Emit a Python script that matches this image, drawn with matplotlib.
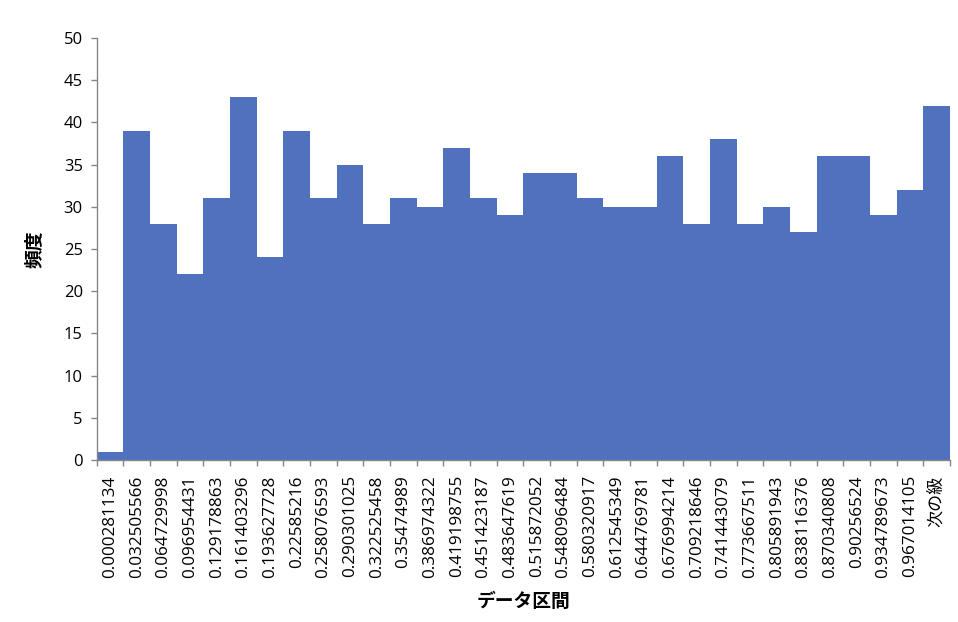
import matplotlib
matplotlib.use("Agg")
import matplotlib.pyplot as plt
import numpy as np

plt.rcParams['font.family'] = ['Open Sans', 'Noto Sans CJK JP', 'DejaVu Sans']

categories = ["0.000281134", "0.032505566", "0.064729998", "0.096954431", "0.129178863",
              "0.161403296", "0.193627728", "0.22585216", "0.258076593", "0.290301025",
              "0.322525458", "0.35474989", "0.386974322", "0.419198755", "0.451423187",
              "0.483647619", "0.515872052", "0.548096484", "0.580320917", "0.612545349",
              "0.644769781", "0.676994214", "0.709218646", "0.741443079", "0.773667511",
              "0.805891943", "0.838116376", "0.870340808", "0.90256524", "0.934789673",
              "0.967014105", "次の級"]
frequency = [1, 39, 28, 22, 31, 43, 24, 39, 31, 35, 28, 31, 30, 37, 31, 29,
             34, 34, 31, 30, 30, 36, 28, 38, 28, 30, 27, 36, 36, 29, 32, 42]
y_ticks = [0, 5, 10, 15, 20, 25, 30, 35, 40, 45, 50]

fig = plt.figure(figsize=(9.58, 6.22), dpi=100)
ax = fig.add_axes([0.101, 0.2605, 0.8907, 0.6784])

x = np.arange(len(categories))
ax.bar(x, frequency, width=1.0, color='#4F71BE', edgecolor='none')

ax.set_xlim(-0.5, len(categories) - 0.5)
ax.set_ylim(0, 50)
ax.set_yticks(y_ticks)
ax.tick_params(axis='y', labelsize=12, length=4, color='#868686', width=1, pad=6)

ax.set_xticks(x)
ax.set_xticklabels(categories, rotation=90, fontsize=12.3, va='top', ha='center',
                   family=['Open Sans', 'Noto Sans CJK JP', 'DejaVu Sans'])
ax.tick_params(axis='x', length=0, pad=11)
ax.set_xticks(np.arange(-0.5, len(categories), 1.0), minor=True)
ax.tick_params(axis='x', which='minor', length=4, color='#868686', width=1)

for s in ['top', 'right']:
    ax.spines[s].set_visible(False)
for s in ['left', 'bottom']:
    ax.spines[s].set_color('#868686')
    ax.spines[s].set_linewidth(1)

ax.set_ylabel('頻度', fontsize=13.5, fontweight='bold', family=['Noto Sans CJK JP'], labelpad=14)
ax.set_xlabel('データ区間', fontsize=13.5, fontweight='bold', family=['Noto Sans CJK JP'], labelpad=10)

fig.savefig('out.png', dpi=100)
